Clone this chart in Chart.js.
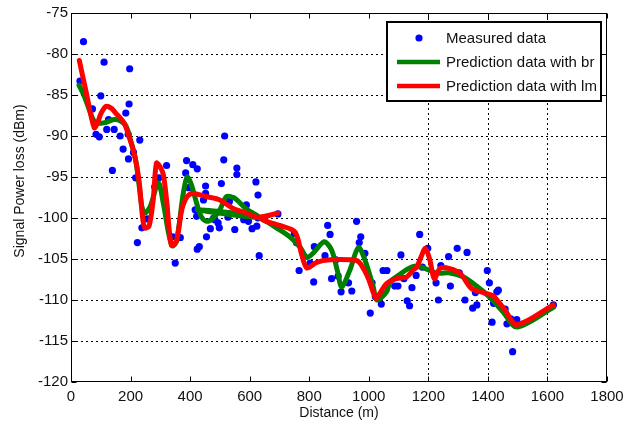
<!DOCTYPE html>
<html>
<head>
<meta charset="utf-8">
<script src="https://cdn.jsdelivr.net/npm/chart.js@4.4.1/dist/chart.umd.min.js"></script>
<style>
  html, body { margin: 0; padding: 0; background: #fff; }
  #wrap { width: 637px; height: 432px; }
</style>
</head>
<body>
<div id="wrap"><canvas id="c" width="637" height="432"></canvas></div>
<script>
// Measured signal power loss versus distance
const measuredDist = [30,42,72,84,95,100,111,120,126,139,145,165,175,184,192,193,195,197,210,217,223,231,238,256,281,295,321,341,350,367,385,388,395,409,417,422,424,424,431,445,452,452,455,468,479,483,494,498,505,513,516,527,532,550,557,557,580,589,596,608,621,624,628,628,632,695,750,757,766,803,815,817,853,862,870,875,890,897,907,932,943,959,968,973,987,1005,1011,1022,1042,1048,1061,1087,1098,1108,1118,1129,1137,1145,1159,1171,1180,1198,1226,1234,1242,1268,1274,1297,1304,1323,1330,1349,1358,1363,1398,1405,1414,1419,1430,1435,1458,1464,1477,1483,1497,1620];
const measuredLoss = [-83.3,-78.5,-86.7,-89.8,-90.1,-85.1,-81.0,-89.2,-88.0,-94.2,-89.2,-90.0,-91.6,-87.2,-89.8,-92.8,-86.1,-81.8,-92.0,-95.1,-103.0,-90.5,-101.2,-100.1,-96.2,-95.1,-93.6,-102.3,-105.5,-102.4,-94.5,-93.0,-96.3,-93.5,-99.0,-99.8,-94.0,-103.8,-103.5,-97.8,-96.1,-97.0,-102.3,-101.3,-100.0,-100.2,-100.6,-101.2,-95.8,-92.9,-90.0,-99.9,-98.0,-101.4,-93.9,-94.7,-100.2,-98.4,-100.4,-101.3,-95.6,-101.0,-97.2,-100.0,-104.6,-99.5,-101.9,-103.0,-106.4,-105.5,-107.8,-103.5,-104.6,-100.9,-102.0,-107.4,-105.1,-107.1,-109.0,-107.9,-108.9,-100.4,-103.0,-102.3,-104.3,-111.6,-107.9,-109.6,-110.5,-106.4,-106.4,-108.3,-108.3,-104.5,-107.4,-110.1,-110.7,-108.5,-107.0,-102.0,-106.0,-103.7,-107.9,-110.0,-105.8,-104.7,-108.3,-103.7,-106.7,-110.0,-104.2,-111.0,-109.1,-110.6,-106.4,-107.9,-112.7,-110.4,-109.0,-108.8,-111.1,-112.9,-112.3,-116.3,-112.4,-110.6];

// Network prediction, Bayesian regularisation (br), in evaluation order
const brDist = [27,45,72,84,110,145,168,185,200,217,228,238,248,266,293,310,328,340,354,377,390,403,422,437,455,478,500,522,545,557,589,628,425,500,567,640,690,735,770,792,813,850,875,895,909,937,965,987,1015,1027,1060,1071,1104,1127,1150,1171,1228,1273,1318,1362,1407,1452,1497,1620];
const brLoss = [-83.8,-85.2,-87.8,-88.4,-88.4,-88.0,-88.2,-88.8,-90.5,-92.9,-95.8,-98.6,-99.4,-98.6,-95.7,-98.2,-101.9,-103.4,-102.9,-97.0,-95.0,-95.8,-98.2,-99.8,-100.4,-100.0,-99.0,-97.4,-97.5,-97.8,-98.9,-99.9,-99.0,-99.2,-99.5,-100.1,-101.2,-102.3,-103.6,-104.8,-104.3,-102.9,-103.9,-106.5,-108.4,-106.3,-103.6,-105.1,-108.4,-110.0,-109.0,-107.8,-106.9,-106.3,-105.9,-105.9,-106.7,-106.7,-107.2,-108.3,-109.7,-111.5,-113.3,-110.9];

// Network prediction, Levenberg-Marquardt (lm), in evaluation order
const lmDist = [28,50,78,90,100,117,135,150,178,195,212,228,240,248,262,276,287,300,310,321,337,354,372,390,410,455,500,543,590,628,695,640,700,752,775,792,825,870,937,965,987,1000,1024,1037,1060,1093,1127,1150,1161,1175,1190,1205,1220,1240,1275,1308,1345,1385,1418,1435,1457,1497,1620];
const lmLoss = [-80.8,-84.5,-89.0,-88.3,-87.3,-86.4,-86.6,-87.2,-88.4,-90.1,-92.1,-95.3,-99.8,-101.2,-101.0,-97.8,-93.3,-93.8,-94.7,-97.8,-103.3,-102.8,-99.0,-97.4,-97.0,-97.4,-97.8,-98.8,-99.4,-99.9,-99.4,-100.1,-100.9,-101.7,-104.5,-106.1,-105.4,-105.1,-105.1,-105.3,-106.5,-107.5,-109.8,-109.2,-108.0,-107.4,-107.2,-106.3,-106.0,-104.8,-103.7,-105.1,-107.4,-106.1,-106.2,-106.8,-108.6,-109.1,-109.5,-110.2,-111.2,-113.0,-110.6];

const xTicks = [0,200,400,600,800,1000,1200,1400,1600,1800];
const yTicks = [-120,-115,-110,-105,-100,-95,-90,-85,-80,-75];
const xGrid = [1200,1400,1600];
const seriesNames = ['Measured data','Prediction data with br','Prediction data with lm'];
const xTitle = 'Distance (m)';
const yTitle = 'Signal Power loss (dBm)';

const FONT = "'Liberation Sans', Arial, Helvetica, sans-serif";
const toPts = (xs, ys) => xs.map((v, i) => ({x: v, y: ys[i]}));

// Dotted grid, boxed axes with inward ticks, legend and axis titles
const framePlugin = {
  id: 'frame',
  beforeDatasetsDraw(chart) {
    const {ctx, chartArea: a, scales: {x, y}} = chart;
    ctx.save();
    ctx.strokeStyle = '#000';
    ctx.lineWidth = 1;
    ctx.setLineDash([2, 3]);
    yTicks.forEach(v => {
      if (v <= y.min || v >= y.max) return;
      const py = Math.round(y.getPixelForValue(v)) + 0.5;
      ctx.beginPath(); ctx.moveTo(a.left, py); ctx.lineTo(a.right, py); ctx.stroke();
    });
    xGrid.forEach(v => {
      const px = Math.round(x.getPixelForValue(v)) + 0.5;
      ctx.beginPath(); ctx.moveTo(px, a.top); ctx.lineTo(px, a.bottom); ctx.stroke();
    });
    ctx.restore();
  },
  afterDatasetsDraw(chart) {
    const {ctx, chartArea: a, scales: {x, y}} = chart;
    ctx.save();
    ctx.strokeStyle = '#000';
    ctx.lineWidth = 1;
    const L = Math.round(a.left) + 0.5, R = Math.round(a.right) - 0.5;
    const T = Math.round(a.top) + 0.5, B = Math.round(a.bottom) - 0.5;
    ctx.strokeRect(L, T, R - L, B - T);
    const tl = 5;
    ctx.beginPath();
    xTicks.forEach(v => {
      const px = Math.round(x.getPixelForValue(v)) + 0.5;
      ctx.moveTo(px, B); ctx.lineTo(px, B - tl);
      ctx.moveTo(px, T); ctx.lineTo(px, T + tl);
    });
    yTicks.forEach(v => {
      const py = Math.round(y.getPixelForValue(v)) + 0.5;
      ctx.moveTo(L, py); ctx.lineTo(L + tl, py);
      ctx.moveTo(R, py); ctx.lineTo(R - tl, py);
    });
    ctx.stroke();

    // legend
    const lx = 387, ly = 22, lw = 214, lh = 79;
    ctx.fillStyle = '#fff';
    ctx.fillRect(lx, ly, lw, lh);
    ctx.lineWidth = 2;
    ctx.strokeRect(lx, ly, lw, lh);
    const ds = chart.data.datasets;
    const rows = [38, 62, 86];
    ctx.font = '15px ' + FONT;
    ctx.textBaseline = 'middle';
    ctx.textAlign = 'left';
    rows.forEach((ry, i) => {
      if (i === 0) {
        ctx.fillStyle = ds[0].backgroundColor;
        ctx.beginPath(); ctx.arc(419, ry, 3.6, 0, Math.PI * 2); ctx.fill();
      } else {
        ctx.strokeStyle = ds[i].borderColor;
        ctx.lineWidth = 4.5;
        ctx.beginPath(); ctx.moveTo(397, ry); ctx.lineTo(440, ry); ctx.stroke();
      }
      ctx.fillStyle = '#111';
      ctx.fillText(seriesNames[i], 446, ry + 1);
    });

    // axis titles
    ctx.fillStyle = '#111';
    ctx.font = '14px ' + FONT;
    ctx.textAlign = 'center';
    ctx.fillText(xTitle, (a.left + a.right) / 2, 413);
    ctx.translate(20, 181);
    ctx.rotate(-Math.PI / 2);
    ctx.fillText(yTitle, 0, 0);
    ctx.restore();
  }
};

new Chart(document.getElementById('c'), {
  type: 'scatter',
  data: {
    datasets: [
      {
        label: seriesNames[0],
        data: toPts(measuredDist, measuredLoss),
        backgroundColor: '#0000ff',
        borderColor: '#0000ff',
        pointRadius: 3.6,
        pointBorderWidth: 0,
        showLine: false,
        order: 3
      },
      {
        label: seriesNames[1],
        data: toPts(brDist, brLoss),
        borderColor: '#008000',
        backgroundColor: '#008000',
        borderWidth: 5,
        pointRadius: 0,
        showLine: true,
        tension: 0.3,
        borderJoinStyle: 'round',
        borderCapStyle: 'round',
        order: 2
      },
      {
        label: seriesNames[2],
        data: toPts(lmDist, lmLoss),
        borderColor: '#ff0000',
        backgroundColor: '#ff0000',
        borderWidth: 5,
        pointRadius: 0,
        showLine: true,
        tension: 0.3,
        borderJoinStyle: 'round',
        borderCapStyle: 'round',
        order: 1
      }
    ]
  },
  options: {
    responsive: false,
    devicePixelRatio: 1,
    animation: false,
    events: [],
    layout: { padding: { top: 13, right: 30, left: 0, bottom: 0 } },
    plugins: { legend: { display: false }, tooltip: { enabled: false } },
    scales: {
      x: {
        type: 'linear',
        min: 0, max: 1800,
        afterBuildTicks: s => { s.ticks = xTicks.map(v => ({value: v})); },
        afterFit: s => { s.height = 50; },
        grid: { display: false, drawTicks: false },
        border: { display: false },
        ticks: { color: '#111', padding: 6, maxRotation: 0, font: { family: FONT, size: 15 }, callback: v => String(v) }
      },
      y: {
        type: 'linear',
        min: -120, max: -75,
        afterBuildTicks: s => { s.ticks = yTicks.map(v => ({value: v})); },
        afterFit: s => { s.width = 71; },
        grid: { display: false, drawTicks: false },
        border: { display: false },
        ticks: { color: '#111', padding: 3, font: { family: FONT, size: 15 }, callback: v => String(v) }
      }
    }
  },
  plugins: [framePlugin]
});
</script>
</body>
</html>
